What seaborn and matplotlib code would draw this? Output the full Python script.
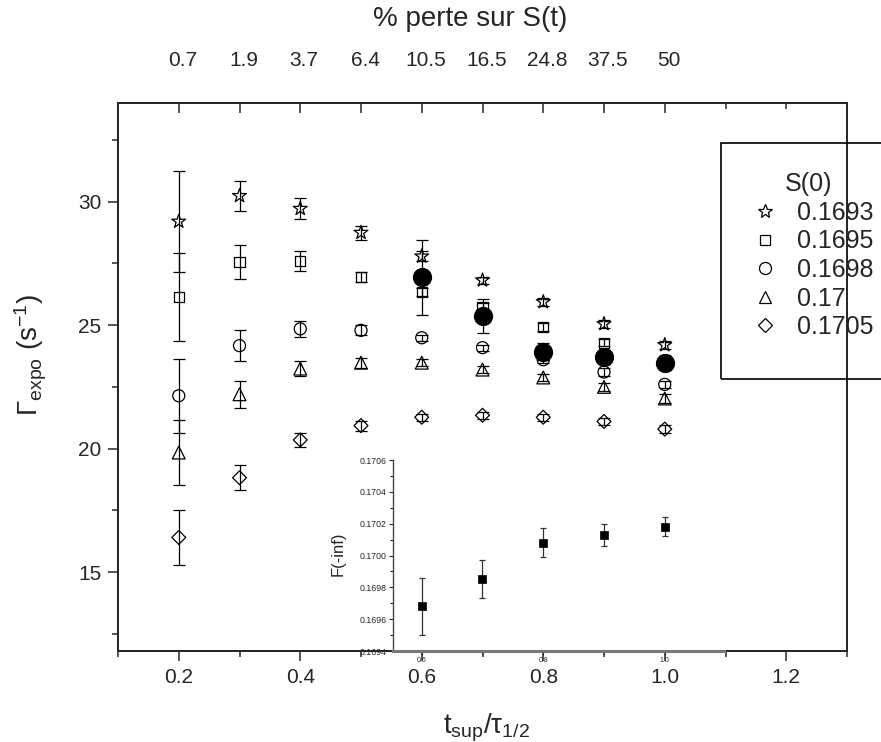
import matplotlib
matplotlib.use('Agg')
import matplotlib.pyplot as plt
import matplotlib.transforms as mtransforms
import numpy as np
import pandas as pd
import seaborn as sns

from matplotlib.lines import Line2D
from matplotlib.patches import Rectangle
from matplotlib.ticker import MultipleLocator, FixedLocator, FormatStrFormatter

# x positions (t_sup / tau_1/2) and the matching % loss labels of the top axis
t_ratio = [0.2, 0.3, 0.4, 0.5, 0.6, 0.7, 0.8, 0.9, 1.0]
perte_labels = ['0.7', '1.9', '3.7', '6.4', '10.5', '16.5', '24.8', '37.5', '50']

# Gamma_expo for each S(0)
s0_labels = ['0.1693', '0.1695', '0.1698', '0.17', '0.1705']
gamma_1693 = [29.2, 30.24, 29.72, 28.75, 27.79, 26.82, 25.94, 25.05, 24.2]
gamma_1695 = [26.14, 27.55, 27.59, 26.96, 26.34, 25.74, 24.93, 24.29, 23.6]
gamma_1698 = [22.14, 24.17, 24.85, 24.79, 24.49, 24.09, 23.6, 23.1, 22.6]
gamma_1700 = [19.84, 22.2, 23.24, 23.48, 23.48, 23.2, 22.88, 22.5, 22.03]
gamma_1705 = [16.4, 18.82, 20.35, 20.93, 21.27, 21.35, 21.27, 21.1, 20.79]

err_1693 = [2.05, 0.6, 0.43, 0.28, 0.2, 0.15, 0.15, 0.15, 0.15]
err_1695 = [1.8, 0.7, 0.4, 0.2, 0.15, 0.15, 0.15, 0.15, 0.15]
err_1698 = [1.5, 0.62, 0.32, 0.2, 0.12, 0.12, 0.15, 0.15, 0.15]
err_1700 = [1.33, 0.55, 0.3, 0.2, 0.15, 0.15, 0.15, 0.15, 0.2]
err_1705 = [1.1, 0.5, 0.28, 0.2, 0.15, 0.15, 0.15, 0.15, 0.15]

# filled black circles (fit with free S(-inf))
t_free = [0.6, 0.7, 0.8, 0.9, 1.0]
gamma_free = [26.94, 25.37, 23.93, 23.7, 23.48]
err_free = [1.53, 0.7, 0.36, 0.2, 0.1]

# inset: fitted F(-inf)
f_inf = [0.16968, 0.16985, 0.17008, 0.17013, 0.17018]
f_inf_err = [0.00018, 0.00012, 0.00009, 0.00007, 0.00006]

gammas = [gamma_1693, gamma_1695, gamma_1698, gamma_1700, gamma_1705]
errors = [err_1693, err_1695, err_1698, err_1700, err_1705]

marker_map = {'0.1693': '*', '0.1695': 's', '0.1698': 'o', '0.17': '^', '0.1705': 'D'}
size_map = {'0.1693': 110, '0.1695': 55, '0.1698': 75, '0.17': 85, '0.1705': 50}

rows = []
for label, g, e in zip(s0_labels, gammas, errors):
    for t, y, dy in zip(t_ratio, g, e):
        rows.append({'t': t, 'gamma': y, 'err': dy, 'S0': label})
df = pd.DataFrame(rows)

sns.set_style('ticks')
plt.rcParams['font.family'] = ['Liberation Sans', 'DejaVu Sans']
plt.rcParams['mathtext.fontset'] = 'custom'
plt.rcParams['mathtext.rm'] = 'Liberation Sans'
plt.rcParams['mathtext.it'] = 'Liberation Sans'

fig = plt.figure(figsize=(8.81, 7.42), dpi=100)
ax = fig.add_axes([118 / 881, 1 - 651 / 742, 729 / 881, 548 / 742])

for label, g, e in zip(s0_labels, gammas, errors):
    ax.errorbar(t_ratio, g, yerr=e, fmt='none', ecolor='black', elinewidth=0.9,
                capsize=4, capthick=0.9, zorder=3)

sns.scatterplot(data=df, x='t', y='gamma', style='S0', size='S0', markers=marker_map,
                sizes=size_map, color='black', linewidth=0.9, legend=False, ax=ax, zorder=2)
for pc in ax.collections:
    if hasattr(pc, 'get_offsets') and len(pc.get_offsets()) == len(df):
        pc.set_facecolor('none')
        pc.set_edgecolor('black')

ax.errorbar(t_free, gamma_free, yerr=err_free, fmt='none', ecolor='black', elinewidth=0.9,
            capsize=4, capthick=0.9, zorder=4)
sns.scatterplot(x=t_free, y=gamma_free, color='black', edgecolor='black', s=165, ax=ax, zorder=5)

ax.set_xlim(0.1, 1.3)
ax.set_ylim(11.8, 34.0)
ax.xaxis.set_major_locator(MultipleLocator(0.2))
ax.xaxis.set_minor_locator(MultipleLocator(0.1))
ax.yaxis.set_major_locator(MultipleLocator(5))
ax.yaxis.set_minor_locator(MultipleLocator(2.5))
ax.xaxis.set_major_formatter(FormatStrFormatter('%.1f'))
ax.tick_params(which='major', direction='out', length=7, width=1.1, labelsize=15, pad=5)
ax.tick_params(which='minor', direction='out', length=4, width=1.1)
for sp in ax.spines.values():
    sp.set_linewidth(1.3)
    sp.set_visible(True)

ax.set_xlabel(r'$\mathregular{t_{sup}/τ_{1/2}}$', fontsize=20)
ax.xaxis.set_label_coords(0.505, -0.11)
ax.set_ylabel(r'$\mathregular{Γ_{expo}\ (s^{-1})}$', fontsize=20)
ax.yaxis.set_label_coords(-0.094, 0.54)

# top axis: % loss on S(t)
top = ax.twiny()
top.set_xlim(ax.get_xlim())
top.xaxis.set_major_locator(FixedLocator(t_ratio))
top.xaxis.set_minor_locator(FixedLocator([0.1, 1.1, 1.2, 1.3]))
top.set_xticklabels(perte_labels)
top.tick_params(which='major', direction='in', length=7, width=1.1, labelsize=15, pad=24)
top.tick_params(which='minor', direction='in', length=4, width=1.1)
shift = mtransforms.ScaledTranslation(4 / 100, 0, fig.dpi_scale_trans)
for lab in top.get_xticklabels():
    lab.set_transform(lab.get_transform() + shift)
for sp in top.spines.values():
    sp.set_linewidth(1.3)
fig.text(470 / 881, 1 - 19 / 742, '% perte sur S(t)', fontsize=20, ha='center', va='center')

# legend
handles = [Line2D([], [], linestyle='none', marker=marker_map[l], markersize=np.sqrt(size_map[l]),
                  markerfacecolor='none', markeredgecolor='black', markeredgewidth=0.9)
           for l in s0_labels]
leg = fig.legend(handles, s0_labels, title='S(0)', loc='upper left',
                 bbox_to_anchor=(732 / 881, 1 - 160 / 742), frameon=False, fontsize=18,
                 title_fontsize=18, labelspacing=0.18, handletextpad=0.5, handlelength=1.6,
                 borderpad=0)
fig.add_artist(Rectangle((721 / 881, 1 - 379 / 742), 200 / 881, 236 / 742,
                         transform=fig.transFigure, fill=False, lw=1.2, ec='black'))

# inset
ax_in = fig.add_axes([393 / 881, 1 - 651 / 742, 331 / 881, 191 / 742])
ax_in.patch.set_alpha(0)
ax_in.errorbar(t_free, f_inf, yerr=f_inf_err, fmt='none', ecolor='#333333', elinewidth=0.9,
               capsize=2, capthick=0.9, zorder=2)
sns.scatterplot(x=t_free, y=f_inf, marker='s', color='black', edgecolor='black', s=38,
                ax=ax_in, zorder=3)
ax_in.set_xlim(0.5527, 1.0975)
ax_in.set_ylim(0.1694, 0.1706)
ax_in.xaxis.set_major_locator(MultipleLocator(0.2))
ax_in.xaxis.set_minor_locator(MultipleLocator(0.1))
ax_in.xaxis.set_major_formatter(FormatStrFormatter('%.1f'))
ax_in.yaxis.set_major_locator(MultipleLocator(0.0002))
ax_in.yaxis.set_minor_locator(MultipleLocator(0.0001))
ax_in.yaxis.set_major_formatter(FormatStrFormatter('%.4f'))
ax_in.tick_params(which='major', direction='out', length=3, width=0.8, labelsize=6.3, pad=1.5)
ax_in.tick_params(axis='x', which='major', labelsize=5)
ax_in.tick_params(which='minor', direction='out', length=2, width=0.8)
ax_in.spines['top'].set_visible(False)
ax_in.spines['right'].set_visible(False)
ax_in.spines['left'].set_linewidth(1.0)
ax_in.spines['left'].set_color('#444444')
ax_in.spines['bottom'].set_linewidth(2.2)
ax_in.spines['bottom'].set_color('#777777')
ax_in.set_ylabel('F(-inf)', fontsize=12)
ax_in.yaxis.set_label_coords(-0.142, 0.51)
ax_in.set_xlabel('')

fig.savefig('out.png', dpi=100)
